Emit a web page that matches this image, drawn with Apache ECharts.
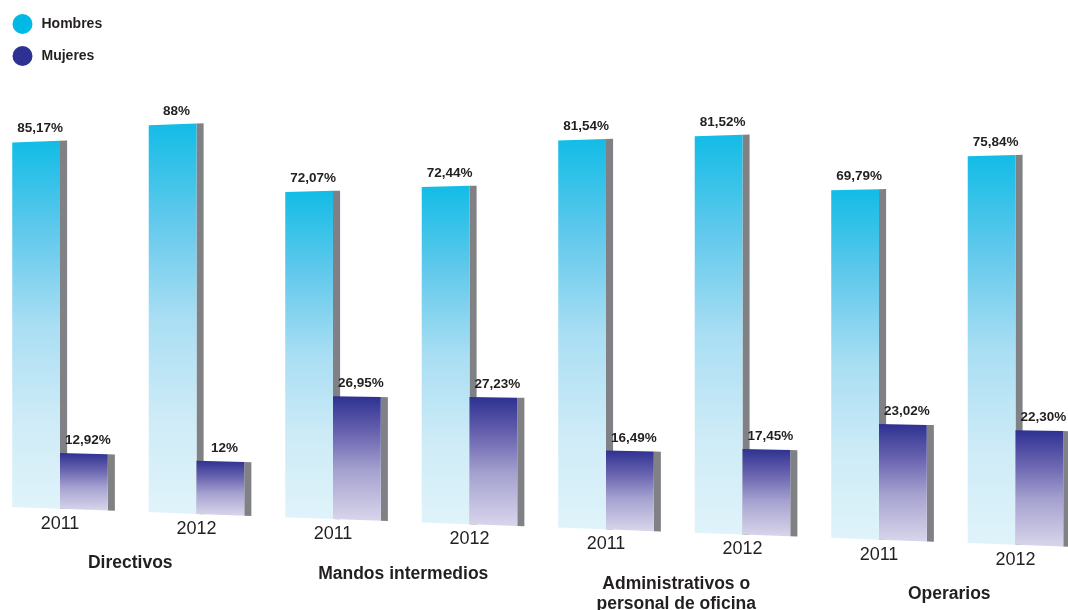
<!DOCTYPE html>
<html>
<head>
<meta charset="utf-8">
<script src="https://cdn.jsdelivr.net/npm/echarts@6/dist/echarts.min.js"></script>
<style>
  html, body { margin: 0; padding: 0; background: #ffffff; }
  #chart { width: 1068px; height: 610px; }
</style>
</head>
<body>
<div id="chart"></div>
<script>
// Occupational categories, each shown for two years
const groups = ['Directivos', 'Mandos intermedios', 'Administrativos o\npersonal de oficina', 'Operarios'];
const years = ['2011', '2012'];
// Share of men / women per category and year (one entry per year slot)
const hombres = [85.17, 88, 72.07, 72.44, 81.54, 81.52, 69.79, 75.84];
const mujeres = [12.92, 12, 26.95, 27.23, 16.49, 17.45, 23.02, 22.30];

const slots = [];
groups.forEach(g => years.forEach(y => slots.push(y)));

const FONT = '"Liberation Sans", Arial, Helvetica, sans-serif';
const INK = '#231f20';
// perspective: floor drops and bars grow toward the right
const TILT = 0.0377;
const GROW = 0.000201;

function project(x, y0, y) {
  return y0 + TILT * x - (y0 - y) * (1 + GROW * x);
}

function fmt(v) {
  return (Number.isInteger(v) ? String(v) : v.toFixed(2)).replace('.', ',') + '%';
}

function barRenderer(side, stops) {
  return function (params, api) {
    const slot = api.value(0), v = api.value(1);
    const c0 = api.coord([slot, 0]);
    const c1 = api.coord([slot, v]);
    const slotW = api.size([1, 0])[0];
    const W = slotW * 0.35, D = slotW * 0.052;
    const xl = side < 0 ? c0[0] - W : c0[0];
    const xr = xl + W, xs = xr + D;
    const y0 = c0[1], y1 = c1[1];
    const P = (x, y) => project(x, y0, y);
    const grad = new echarts.graphic.LinearGradient(0, 0, 0, 1, stops);
    const midX = (xl + xr) / 2;
    return {
      type: 'group',
      children: [
        {
          type: 'polygon',
          shape: { points: [[xr, P(xr, y1)], [xs, P(xs, y1)], [xs, P(xs, y0)], [xr, P(xr, y0)]] },
          style: { fill: '#808184' }
        },
        {
          type: 'polygon',
          shape: { points: [[xl, P(xl, y1)], [xr, P(xr, y1)], [xr, P(xr, y0)], [xl, P(xl, y0)]] },
          style: { fill: grad }
        },
        {
          type: 'text',
          x: midX + 4,
          y: P(midX, y1) - 13,
          style: {
            text: fmt(v), fill: INK, font: 'bold 13.5px ' + FONT,
            align: 'center', verticalAlign: 'middle'
          }
        }
      ]
    };
  };
}

function labelRenderer(params, api) {
  const slot = api.value(0);
  const c0 = api.coord([slot, 0]);
  const slotW = api.size([1, 0])[0];
  const y0 = c0[1];
  const children = [{
    type: 'text',
    x: c0[0],
    y: project(c0[0], y0, y0) + 15,
    style: {
      text: slots[slot], fill: INK, font: '18px ' + FONT,
      align: 'center', verticalAlign: 'middle'
    }
  }];
  if (slot % 2 === 0) {
    const gx = c0[0] + slotW / 2 + 2;
    children.push({
      type: 'text',
      x: gx,
      y: project(gx, y0, y0) + 42,
      style: {
        text: groups[slot / 2], fill: INK, font: 'bold 17.5px ' + FONT,
        align: 'center', verticalAlign: 'top', lineHeight: 20
      }
    });
  }
  return { type: 'group', children };
}

const chart = echarts.init(document.getElementById('chart'), null, { renderer: 'canvas' });
chart.setOption({
  animation: false,
  backgroundColor: '#ffffff',
  legend: {
    data: ['Hombres', 'Mujeres'],
    orient: 'vertical',
    left: 12.5,
    top: 14,
    padding: 0,
    icon: 'circle',
    itemWidth: 20,
    itemHeight: 20,
    itemGap: 12,
    selectedMode: false,
    textStyle: { color: INK, fontFamily: FONT, fontWeight: 'bold', fontSize: 14, padding: [0, 0, 0, 4] }
  },
  grid: { left: 0, right: 0, top: 79.7, bottom: 103.5, containLabel: false },
  // year slots run past the right edge, so the axis range is widened/shifted
  xAxis: { type: 'value', min: -0.4396, max: 7.3846, show: false },
  yAxis: { type: 'value', min: 0, max: 100, show: false },
  series: [
    {
      name: 'Hombres',
      type: 'custom',
      itemStyle: { color: '#00b9e4' },
      renderItem: barRenderer(-1, [
        { offset: 0, color: '#12bce6' },
        { offset: 0.25, color: '#62c9ec' },
        { offset: 0.5, color: '#a9def3' },
        { offset: 0.75, color: '#cdebf7' },
        { offset: 1, color: '#e0f3fa' }
      ]),
      data: hombres.map((v, i) => [i, v])
    },
    {
      name: 'Mujeres',
      type: 'custom',
      itemStyle: { color: '#2e3192' },
      renderItem: barRenderer(1, [
        { offset: 0, color: '#2e3192' },
        { offset: 0.3, color: '#6a65b0' },
        { offset: 0.6, color: '#a6a2d0' },
        { offset: 1, color: '#d8d5eb' }
      ]),
      data: mujeres.map((v, i) => [i, v])
    },
    {
      name: 'etiquetas',
      type: 'custom',
      renderItem: labelRenderer,
      data: slots.map((s, i) => [i])
    }
  ]
});
</script>
</body>
</html>
